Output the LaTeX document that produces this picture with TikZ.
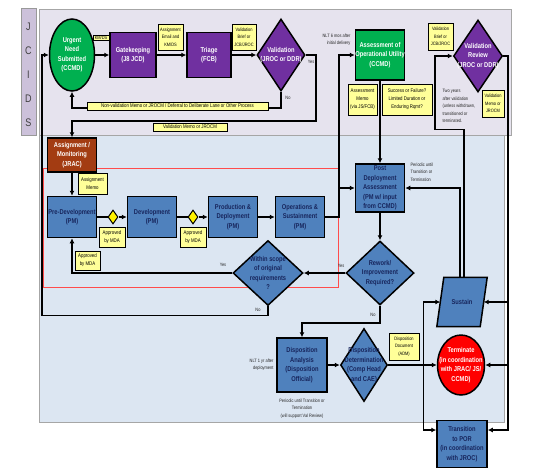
\documentclass[tikz,border=0pt]{standalone}
\usepackage{fontspec}
\setmainfont{Liberation Sans}[FakeStretch=0.82]
\usetikzlibrary{shapes.geometric,arrows.meta}
\definecolor{vpurple}{HTML}{7030A0}
\definecolor{vgreen}{HTML}{00B050}
\definecolor{pmblue}{HTML}{4F81BD}
\definecolor{jracbrown}{HTML}{A33C12}
\definecolor{memoyel}{HTML}{FFFF99}
\definecolor{topbg}{HTML}{E6E3EE}
\definecolor{lowbg}{HTML}{DCE6F2}
\definecolor{jcidsbg}{HTML}{CCC1DA}
\definecolor{navy}{HTML}{17255C}
\begin{document}
\begin{tikzpicture}[x=1pt,y=-1pt, every node/.style={font=\fontsize{5}{7.5}\selectfont},
  ln/.style={line width=1.5pt,black},
  arr/.style={ln,-{Latex[length=5pt,width=5pt]}},
  bx/.style={draw,line width=1.5pt,inner sep=0pt,minimum width=49,minimum height=45},
  pbox/.style={bx,fill=vpurple},
  bbox/.style={bx,fill=pmblue},
  dia/.style={diamond,draw,line width=1.5pt,inner sep=0pt},
  wt/.style={font=\fontsize{7}{9.5}\selectfont\bfseries,text=white,align=center},
  nt/.style={wt,text=navy},
  memo/.style={draw,fill=memoyel,inner xsep=1.5pt,inner ysep=1pt,align=center,font=\fontsize{5.3}{8}\selectfont},
  note/.style={align=left,font=\fontsize{4.8}{7.5}\selectfont,text=black!85}]
  \useasboundingbox (0,0) rectangle (535,475);
  \filldraw[fill=topbg,draw=gray!70] (39,9) rectangle (511,135);
  \filldraw[fill=lowbg,draw=gray!70] (39,135) rectangle (504,422);
  \filldraw[fill=jcidsbg,draw=gray!80] (21,8) rectangle (36,135);
  \foreach \c [count=\i] in {J,C,I,D,S}
    \node[font=\fontsize{11}{11}\selectfont,text=black!75] (jc\i) at (28.5,3+24*\i) {\c};
  \draw[red!70,line width=0.8pt] (43,168) rectangle (338,287);

  \node[ellipse,draw,line width=1.5pt,inner sep=0pt,fill=vgreen,minimum width=45,minimum height=72,label={[wt]center:Urgent\\Need\\Submitted\\(CCMD)}] (urg) at (72,55) {};
  \node[pbox,minimum width=46,label={[wt]center:Gatekeeping\\(J8 JCD)}] (gate) at (133,55) {};
  \node[pbox,minimum width=44,label={[wt]center:Triage\\(FCB)}] (triage) at (209,55) {};
  \node[dia,fill=vpurple,minimum width=48,minimum height=72,label={[wt]center:Validation\\(JROC or DDR)}] (val) at (281,55) {};
  \node[bx,fill=vgreen,minimum height=50,label={[wt]center:Assessment of\\Operational Utility\\(CCMD)}] (aou) at (380,55) {};
  \node[dia,fill=vpurple,minimum width=49,minimum height=72,label={[wt]center:Validation\\Review\\(JROC or DDR)}] (vrev) at (478,56) {};

  \node[bx,fill=jracbrown,minimum height=34,label={[wt]center:Assignment /\\Monitoring\\(JRAC)}] (asg) at (72,155) {};
  \node[bbox,minimum height=41,label={[nt]center:Pre-Development\\(PM)}] (predev) at (72,217) {};
  \node[dia,fill=yellow,line width=1pt,minimum width=10,minimum height=14] (dm1) at (113,217) {};
  \node[bbox,minimum height=41,label={[nt]center:Development\\(PM)}] (dev) at (152,217) {};
  \node[dia,fill=yellow,line width=1pt,minimum width=10,minimum height=14] (dm2) at (193,217) {};
  \node[bbox,minimum height=41,label={[nt]center:Production \&\\Deployment\\(PM)}] (prod) at (233,217) {};
  \node[bbox,minimum height=41,label={[nt]center:Operations \&\\Sustainment\\(PM)}] (ops) at (300,217) {};
  \node[bbox,minimum height=48,label={[nt]center:Post\\Deployment\\Assessment\\(PM w/ input\\from CCMD)}] (pda) at (380,188) {};
  \node[dia,fill=pmblue,minimum width=68,minimum height=64,label={[nt]center:Rework/\\Improvement\\Required?}] (rew) at (380,273) {};
  \node[dia,fill=pmblue,minimum width=70,minimum height=65,label={[nt]center:Within scope\\of original\\requirements\\?}] (scope) at (268,273) {};
  \node[bbox,minimum width=50,minimum height=54,label={[nt]center:Disposition\\Analysis\\(Disposition\\Official)}] (disa) at (302,365) {};
  \node[dia,fill=pmblue,minimum width=47,minimum height=73,label={[nt]center:Disposition\\Determination\\(Comp Head\\and CAE)}] (disd) at (364,365) {};
  \node[inner sep=0pt,minimum width=43,minimum height=49] (sus) at (462,302) {};
  \filldraw[fill=pmblue,line width=1.5pt,line join=miter] ([xshift=3.5]sus.north west) -- ([xshift=3.5]sus.north east) -- ([xshift=-3.5]sus.south east) -- ([xshift=-3.5]sus.south west) -- cycle;
  \node[nt] (sust) at (sus) {Sustain};
  \node[ellipse,draw,line width=1.5pt,fill=red,inner sep=0pt,minimum width=47,minimum height=60,label={[wt]center:Terminate\\(in coordination\\with JRAC/ JS/\\CCMD)}] (term) at (461,365) {};
  \node[bbox,minimum width=50,minimum height=47,label={[nt]center:Transition\\to POR\\(in coordination\\with JROC)}] (trans) at (462,444) {};

  \draw[arr] (urg) -- (gate); \draw[arr] (gate) -- (triage); \draw[arr] (triage) -- (val);
  \draw[arr] (val.south) -- ++(0,16) -| (urg.south);
  \draw[arr] (val.east) -| ++(10,66) -| (asg.north);
  \draw[arr] (asg) -- (predev);
  \draw[ln] (predev) -- (dm1); \draw[arr] (dm1) -- (dev);
  \draw[ln] (dev) -- (dm2); \draw[arr] (dm2) -- (prod);
  \draw[arr] (prod) -- (ops);
  \draw[arr] (ops.east) -| ([xshift=-16]pda.west) -- (pda.west);
  \draw[arr] ([xshift=-16]pda.west) |- (aou.west);
  \draw[arr] (aou) -- (pda); \draw[arr] (pda) -- (rew); \draw[arr] (rew) -- (scope);
  \draw[arr] (scope.west) -| (predev.south);
  \draw[arr] (scope.south) -- ++(0,9) -| ([xshift=-7]urg.west) -- (urg.west);
  \draw[arr] (rew.south) -- ++(0,17) -| (disa.north);
  \draw[arr] (disa) -- (disd); \draw[arr] (disd) -- (term);
  \coordinate (lline) at ([xshift=35]disd.east);
  \coordinate (rline) at ([xshift=20]trans.east);
  \draw[arr] (lline) |- (sus.west); \draw[arr] (lline) |- ([yshift=14]trans.west);
  \draw[arr] ([xshift=-2]sus.north) |- (pda.east);
  \draw[arr] ([xshift=2]sus.north) |- ++(-29,-148) |- (vrev.west);
  \draw[arr] (vrev.east) -| ([yshift=14]trans.east -| rline) -- ([yshift=14]trans.east);
  \draw[arr] (sus.east -| rline) -- (sus.east); \draw[arr] (term.east -| rline) -- (term.east);

  \node[memo,font=\fontsize{4.8}{6}\selectfont] (kmds) at (101,37.5) {KM/DS};
  \node[memo,font=\fontsize{4.8}{7.5}\selectfont,minimum width=25,minimum height=26] (aek) at (170.5,37) {Assignment\\Email and\\KM/DS};
  \node[memo,font=\fontsize{4.8}{7.5}\selectfont,minimum width=24,minimum height=26] (vbj) at (244,37) {Validation\\Brief or\\JCB/JROC};
  \node[memo,minimum width=181,minimum height=8,inner ysep=0pt] (nonval) at (177.5,106) {Non-validation Memo or JROCM / Deferral to Deliberate Lane or Other Process};
  \node[memo,minimum width=74,minimum height=8,inner ysep=0pt] (vmj) at (190,127) {Validation Memo or JROCM};
  \node[memo,minimum width=29,minimum height=31] (amemo) at (362.5,99.5) {Assessment\\Memo\\(via JS/FCB)};
  \node[memo,minimum width=50,minimum height=31] (sof) at (407,99.5) {Success or Failure?\\Limited Duration or\\Enduring Rqmt?};
  \node[memo,font=\fontsize{4.8}{7.5}\selectfont,minimum width=25,minimum height=27] (vbj2) at (440.5,36.5) {Validation\\Brief or\\JCB/JROC};
  \node[memo,font=\fontsize{4.8}{7.5}\selectfont,minimum width=22,minimum height=27] (vmj2) at (493,103.5) {Validation\\Memo or\\JROCM};
  \node[memo,minimum width=29,minimum height=21] (asgmemo) at (92.5,183.5) {Assignment\\Memo};
  \node[memo,minimum width=26,minimum height=20] (mda1) at (112,237) {Approved\\by MDA};
  \node[memo,minimum width=26,minimum height=20] (mda2) at (193,237) {Approved\\by MDA};
  \node[memo,minimum width=25,minimum height=19] (mda3) at (87.5,260.5) {Approved\\by MDA};
  \node[memo,font=\fontsize{4.8}{7.5}\selectfont,minimum width=30,minimum height=27] (ddoc) at (404,346.5) {Disposition\\Document\\(ADM)};

  \node[note] (yes1) at (311,62) {Yes};
  \node[note] (no1) at (288,98) {No};
  \node[note,align=right,anchor=east] (nlt6) at (354,40) {NLT 6 mos after\\initial delivery};
  \node[note,anchor=north west] (twoyr) at (439,86) {Two years\\after validation\\(unless withdrawn,\\transitioned or\\terminated.};
  \node[note,anchor=north west] (perio1) at (407,159) {Periodic until\\Transition or\\Termination};
  \node[note] (yes2) at (223,265) {Yes};
  \node[note] (yes3) at (341,266) {Yes};
  \node[note] (no2) at (258,310) {No};
  \node[note] (no3) at (373,315) {No};
  \node[note,align=right,anchor=east] (nlt1) at (277,365) {NLT 1 yr after\\deployment};
  \node[note,align=center,anchor=north] (perio2) at (302,395) {Periodic until Transition or\\Termination\\(will support Val Review)};
\end{tikzpicture}
\end{document}
